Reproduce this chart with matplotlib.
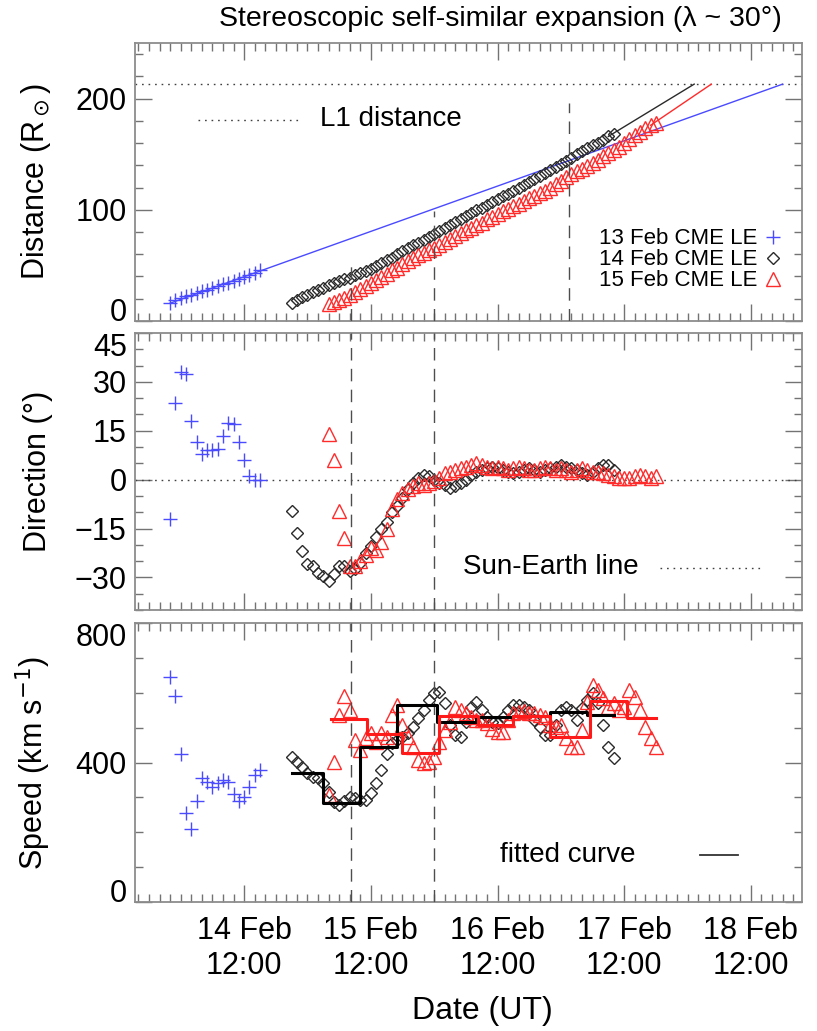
import numpy as np
import pandas as pd
import matplotlib
matplotlib.use('Agg')
import matplotlib.pyplot as plt
import matplotlib.dates as mdates
from matplotlib.ticker import MultipleLocator, FixedLocator

plt.rcParams['font.family'] = ['Liberation Sans', 'DejaVu Sans']

# --- data (hourly cadence) ---
blue_start, black_start, red_start = '2011-02-13 22:00', '2011-02-14 21:00', '2011-02-15 04:00'

blue_dist = [16, 18.5, 20.5, 22, 23.5, 25, 26.5, 28, 29.5, 31, 33, 34.5, 36, 38, 39.5, 41.5, 43.5, 46]
blue_dir = [-12, 23.5, 33, 32.5, 18, 11.5, 8, 9, 9, 9.5, 13.5, 17.5, 17, 11.5, 6, 1, 0, 0]
blue_speed = [645, 590, 425, 255, 210, 290, 355, 345, 330, 340, 350, 345, 310, 290, 300, 330, 365, 380]

black_dist = [16.5, 19, 21.5, 23.5, 26, 28, 30, 32, 34, 36, 37.5, 39, 41, 43, 45, 47, 49.5, 52, 54.5, 57,
              60, 62.5, 65.5, 68, 70.5, 73, 75.5, 78, 80.5, 83.5, 86.5, 89, 91.5, 94.5, 97, 99.5, 102, 104.5,
              107, 109.5, 112, 114.5, 117, 119.5, 122.5, 125, 127.5, 130.5, 133, 136, 138.5, 141, 144, 147,
              150, 152.5, 155.5, 158, 160.5, 163, 166, 168.5]
black_dir = [-9.5, -16.5, -22, -26, -26.5, -28.5, -29.5, -31, -29, -26.5, -26.5, -28, -27.5, -25.5, -22.5,
             -20.5, -17.5, -15, -13, -10, -8, -5.5, -3, -1, 0.5, 1.5, 1, 0, -1, -1.5, -2.5, -2, -1, 0, 1.5,
             2.5, 3, 3.5, 4, 3.5, 3, 2.5, 2, 2.5, 3, 3.5, 3, 2.5, 3, 3.5, 4, 4.5, 4, 3.5, 3, 2, 1.5, 2.5,
             3.5, 4.5, 4.5, 3]
black_speed = [417, 402, 386, 369, 359, 355, 340, 316, 288, 278, 290, 302, 297, 292, 292, 312, 340, 378, 424,
               455, 464, 474, 484, 503, 527, 550, 579, 598, 603, 570, 507, 479, 474, 517, 560, 574, 550, 531,
               517, 512, 531, 550, 565, 565, 560, 550, 522, 503, 479, 479, 507, 550, 560, 550, 522, 555, 579,
               598, 570, 507, 445, 412]

red_dist = [15, 17, 19, 21, 23.5, 26, 28.5, 31, 34, 36.5, 39.5, 42.5, 45.5, 48, 51, 53.5, 56.5, 59, 61, 63.5,
            66, 68.5, 71, 74, 76.5, 79, 81.5, 84, 86.5, 88.5, 91.5, 93.5, 96, 98.5, 101, 103, 105.5, 108,
            110.5, 112.5, 115, 117, 120, 123, 126, 129.5, 132, 134.5, 137, 139.5, 142, 145, 148, 151, 154,
            156.5, 160, 163.5, 167, 170, 173.5, 176, 178]
red_dir = [14, 6, -9.5, -18, -26.5, -26.5, -25, -23, -21, -21.5, -19, -15, -9, -6, -4, -3, -2, -1, -1.5, -1,
           -0.5, 0.5, 2, 2.5, 3, 3.5, 4, 4.5, 5, 4.5, 4, 3.5, 4, 3.5, 3, 3.5, 4, 3.5, 3, 3, 3.5, 4, 3.5, 3,
           3.5, 3, 2.5, 3, 3.5, 3, 2.5, 2.5, 2, 1.5, 1, 0.5, 0.5, 0.5, 1, 1.5, 1, 0.5, 1]
red_speed = [307, 402, 536, 591, 550, 464, 436, 469, 484, 460, 484, 474, 536, 565, 507, 474, 445, 407, 398,
             402, 417, 460, 493, 517, 560, 550, 541, 531, 522, 522, 512, 495, 488, 488, 522, 541, 546, 548,
             541, 541, 536, 531, 507, 503, 507, 469, 445, 445, 493, 574, 622, 608, 585, 560, 570, 550, 560,
             608, 589, 550, 503, 469, 445]

# extrapolations to L1 (top panel)
L1 = 213
blue_fit_t = ['2011-02-13 22:00', '2011-02-18 18:00']
blue_fit_r = [16, 213]
black_fit_t = ['2011-02-17 09:00', '2011-02-18 01:15']
black_fit_r = [166, 213]
red_fit_t = ['2011-02-17 17:00', '2011-02-18 04:30']
red_fit_r = [176, 213]

# fitted speed curves (step functions)
black_step_t = ['2011-02-14 21:00', '2011-02-15 03:00', '2011-02-15 10:00', '2011-02-15 17:00',
                '2011-02-16 00:30', '2011-02-16 08:00', '2011-02-16 15:00', '2011-02-16 22:00',
                '2011-02-17 05:00', '2011-02-17 10:00']
black_step_v = [369, 285, 445, 565, 517, 531, 533, 545, 537, 537]
red_step_t = ['2011-02-15 04:30', '2011-02-15 11:15', '2011-02-15 18:00', '2011-02-16 01:00',
              '2011-02-16 08:15', '2011-02-16 15:00', '2011-02-16 22:00', '2011-02-17 05:30',
              '2011-02-17 12:30', '2011-02-17 18:00']
red_step_v = [524, 482, 426, 533, 507, 533, 474, 577, 529, 529]

# vertical dashed markers
vline_t = ['2011-02-15 08:15', '2011-02-16 00:00', '2011-02-17 01:30']
vline_top = [52, 99, 196]   # height reached in the distance panel

tb = pd.date_range(blue_start, periods=len(blue_dist), freq='h').to_numpy()
tk = pd.date_range(black_start, periods=len(black_dist), freq='h').to_numpy()
tr = pd.date_range(red_start, periods=len(red_dist), freq='h').to_numpy()
T = lambda s: pd.to_datetime(s).to_numpy()

BLUE, RED, BLK = '#4a4aff', '#ff2a2a', '#2a2a2a'
mk_b = dict(ls='none', marker='+', ms=10, mew=1.0, color=BLUE)
mk_k = dict(ls='none', marker='D', ms=6.5, mew=1.0, mfc='none', mec=BLK)
mk_r = dict(ls='none', marker='^', ms=9.5, mew=1.0, mfc='none', mec=RED)
dash = dict(color='0.3', lw=1.0, ls=(0, (9, 6)), zorder=4)
dots = dict(color='0.25', lw=1.0, ls=(0, (1.2, 3.5)))

xmin, xmax = pd.Timestamp('2011-02-13 15:20'), pd.Timestamp('2011-02-18 21:40')

fig = plt.figure(figsize=(8.17, 10.31), dpi=100)
L, W = 0.1652, 0.8164
ax1 = fig.add_axes([L, 0.6887, W, 0.2696])
ax2 = fig.add_axes([L, 0.4083, W, 0.2687])
ax3 = fig.add_axes([L, 0.1251, W, 0.2706])


def style(ax, ylim, ticks, minor):
    ax.set_xlim(xmin, xmax)
    ax.set_ylim(*ylim)
    ax.yaxis.set_major_locator(FixedLocator(ticks))
    ax.yaxis.set_minor_locator(MultipleLocator(minor))
    ax.xaxis.set_major_locator(mdates.HourLocator(byhour=[12]))
    ax.xaxis.set_minor_locator(mdates.HourLocator(byhour=range(0, 24, 2)))
    ax.xaxis.set_major_formatter(mdates.DateFormatter('%d %b\n%H:%M'))
    ax.tick_params(which='both', direction='in', top=True, right=True, color='0.45',
                   labelsize=22, width=1.0)
    ax.tick_params(which='major', length=12)
    ax.tick_params(which='minor', length=6)
    ax.tick_params(axis='y', pad=6)
    ax.tick_params(axis='x', pad=10)
    for s in ax.spines.values():
        s.set_color('0.55')
        s.set_linewidth(1.3)
    # keep end labels inside the panel, as in the original
    mt = ax.yaxis.get_major_ticks()
    for tk_, val in zip(mt, ticks):
        if val == ylim[0]:
            tk_.label1.set_va('baseline')
        elif val == ylim[1]:
            tk_.label1.set_va('top')


# distance
style(ax1, (0, 250), [0, 100, 200], 20)
ax1.axhline(L1, **dots)
for t, h in zip(vline_t, vline_top):
    ax1.plot([T(t), T(t)], [0, h], **dash)
ax1.plot(T(blue_fit_t), blue_fit_r, color=BLUE, lw=1.0)
ax1.plot(T(black_fit_t), black_fit_r, color=BLK, lw=1.0)
ax1.plot(T(red_fit_t), red_fit_r, color=RED, lw=1.0)
hb, = ax1.plot(tb, blue_dist, **mk_b)
hk, = ax1.plot(tk, black_dist, **mk_k)
hr, = ax1.plot(tr, red_dist, **mk_r)
ax1.legend([hb, hk, hr], ['13 Feb CME LE', '14 Feb CME LE', '15 Feb CME LE'],
           loc='center right', bbox_to_anchor=(0.987, 0.22), markerfirst=False, frameon=False,
           fontsize=16, handlelength=0.8, handletextpad=0.3, labelspacing=0.0, borderpad=0)
ax1.plot([0.094, 0.25], [0.723, 0.723], transform=ax1.transAxes, **dots)
ax1.text(0.277, 0.727, 'L1 distance', transform=ax1.transAxes, fontsize=20, va='center')
ax1.set_ylabel(r'Distance (R$_\odot$)', fontsize=22)
ax1.tick_params(labelbottom=False)

# direction
style(ax2, (-40, 45), [-30, -15, 0, 15, 30, 45], 5)
ax2.axhline(0, **dots)
for t in vline_t[:2]:
    ax2.axvline(T(t), **dash)
ax2.plot(tb, blue_dir, **mk_b)
ax2.plot(tk, black_dir, **mk_k)
ax2.plot(tr, red_dir, **mk_r)
ax2.text(0.492, 0.155, 'Sun-Earth line', transform=ax2.transAxes, fontsize=20, va='center')
ax2.plot([0.787, 0.937], [0.15, 0.15], transform=ax2.transAxes, **dots)
ax2.set_ylabel('Direction (°)', fontsize=22)
ax2.tick_params(labelbottom=False)

# speed
style(ax3, (0, 800), [0, 400, 800], 100)
for t in vline_t[:2]:
    ax3.axvline(T(t), **dash)
ax3.plot(tb, blue_speed, **mk_b)
ax3.plot(tk, black_speed, **mk_k)
ax3.plot(tr, red_speed, **mk_r)
ax3.plot(T(black_step_t), black_step_v, drawstyle='steps-post', color='black', lw=2.2, zorder=5)
ax3.plot(T(red_step_t), red_step_v, drawstyle='steps-post', color='#ff1a1a', lw=2.2, zorder=5)
ax3.text(0.547, 0.17, 'fitted curve', transform=ax3.transAxes, fontsize=20, va='center')
ax3.plot([0.847, 0.904], [0.168, 0.168], transform=ax3.transAxes, color='0.2', lw=1.3)
ax3.set_ylabel(r'Speed (km s$^{-1}$)', fontsize=22)
for lab in ax3.get_xticklabels():
    lab.set_multialignment('center')

for ax in (ax1, ax2, ax3):
    ax.yaxis.set_label_coords(-0.123, 0.5)

fig.text(0.59, 0.019, 'Date (UT)', fontsize=23, ha='center', va='center')
fig.text(0.613, 0.982, 'Stereoscopic self-similar expansion (λ ~ 30°)', fontsize=20.5,
         ha='center', va='center')

fig.savefig('out.png', dpi=100)
